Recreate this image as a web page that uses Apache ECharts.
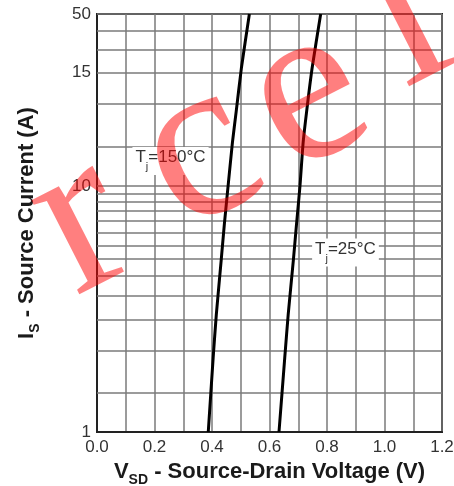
<!DOCTYPE html>
<html><head><meta charset="utf-8">
<script src="https://cdn.jsdelivr.net/npm/echarts@6/dist/echarts.min.js"></script>
<style>html,body{margin:0;padding:0;background:#fff}#c{width:454px;height:486px}</style>
</head><body><div id="c"></div>
<script>
// Source current (A) at which the curves were read
const currents = [1, 2, 3, 5, 7, 10, 15, 20, 30, 50];
// Source-drain voltage (V) for Tj = 150 °C
const vsd150 = [0.387, 0.404, 0.415, 0.432, 0.443, 0.456, 0.471, 0.484, 0.502, 0.530];
// Source-drain voltage (V) for Tj = 25 °C
const vsd25 = [0.633, 0.653, 0.665, 0.683, 0.694, 0.706, 0.717, 0.729, 0.748, 0.778];
// horizontal grid lines of the original (uneven) current grid
const yGridValues = [1.44, 2.14, 2.87, 3.58, 4.31, 5.04, 5.7, 6.46, 7.2, 7.91, 8.63, 9.34, 10, 14.4, 21.5, 28.9, 35.9, 42.8, 50];
// y tick labels as printed, and the grid value where each sits
const yTickValues = [1, 10, 28.9, 50];
const yTickLabels = ['1', '10', '15', '50'];
// x tick labels
const xTickLabels = ['0.0', '0.2', '0.4', '0.6', '0.8', '1.0', '1.2'];

const FONT = '"Liberation Sans", Arial, sans-serif';
const gridLineColor = '#7a7a7a';
const chart = echarts.init(document.getElementById('c'));

const subRich = {
  b: { fontSize: 22, fontWeight: 'bold', fontFamily: FONT, color: '#1a1a1a', lineHeight: 24, verticalAlign: 'top' },
  s: { fontSize: 14, fontWeight: 'bold', fontFamily: FONT, color: '#1a1a1a', lineHeight: 26, verticalAlign: 'bottom' }
};
const annRich = {
  t: { fontSize: 17, fontFamily: FONT, color: '#333', lineHeight: 18, verticalAlign: 'top' },
  j: { fontSize: 11, fontFamily: FONT, color: '#333', lineHeight: 24, verticalAlign: 'bottom' }
};

const wm = (ch, x, y) => ({
  type: 'text', x, y, rotation: 27 * Math.PI / 180, z: 100, silent: true,
  style: { text: ch, font: '230px "Liberation Serif", serif', fill: 'rgba(255,0,0,0.5)',
    textAlign: 'center', textVerticalAlign: 'middle', align: 'center', verticalAlign: 'middle' }
});

chart.setOption({
  animation: false,
  backgroundColor: '#fff',
  grid: { left: 97, top: 14, width: 345, height: 418, outerBoundsMode: 'none', containLabel: false,
    show: true, borderColor: '#222', borderWidth: 2, backgroundColor: 'transparent' },
  xAxis: {
    type: 'value', min: 0, max: 1.2, interval: 0.1,
    name: '{b|V}{s|SD}{b| - Source-Drain Voltage (V)}',
    nameLocation: 'middle', nameGap: 26,
    nameTextStyle: { rich: subRich },
    axisLine: { show: true, onZero: false, lineStyle: { color: '#222', width: 2 } },
    axisTick: { show: false },
    axisLabel: {
      margin: 7, fontSize: 17, fontFamily: FONT, color: '#333',
      formatter: v => { const k = Math.round(v * 10); return k % 2 === 0 ? xTickLabels[k / 2] : ''; }
    },
    splitLine: { show: true, lineStyle: { color: gridLineColor, width: 1.5 } }
  },
  yAxis: {
    type: 'log', logBase: 10, min: 1, max: 50,
    name: '{b|I}{s|S}{b| - Source Current (A)}',
    nameLocation: 'middle', nameGap: 55,
    nameTextStyle: { rich: subRich },
    axisLine: { show: true, lineStyle: { color: '#222', width: 2 } },
    axisTick: { show: false },
    axisLabel: { show: false },
    splitLine: { show: false }
  },
  graphic: [wm('r', 82, 225), wm('c', 200, 155), wm('e', 308, 97), wm('l', 406, 20)],
  series: [
    {
      type: 'line', name: 'grid', data: [], z: 1, silent: true,
      markLine: {
        silent: true, symbol: ['none', 'none'], animation: false,
        lineStyle: { color: gridLineColor, width: 1.5, type: 'solid' },
        label: { show: false },
        data: yGridValues.map(v => ({ yAxis: v }))
      }
    },
    {
      type: 'line', name: 'ticks', data: [], z: 1, silent: true,
      markLine: {
        silent: true, symbol: ['none', 'none'], animation: false,
        lineStyle: { color: 'transparent', width: 0 },
        label: { show: true, position: 'start', distance: 6, fontSize: 17, fontFamily: FONT, color: '#333' },
        data: yTickValues.map((v, i) => ({ yAxis: v, label: { formatter: yTickLabels[i] } }))
      }
    },
    {
      type: 'line', name: 'Tj=150°C', z: 5, symbol: 'none', smooth: 0.2,
      lineStyle: { color: '#000', width: 3 },
      data: currents.map((c, i) => [vsd150[i], c]),
      markPoint: {
        symbol: 'rect', symbolSize: 1, itemStyle: { color: 'transparent' }, silent: true,
        label: { show: true, position: 'right', distance: 0, backgroundColor: '#fff', padding: [2, 3],
          formatter: '{t|T}{j|j}{t|=150°C}', rich: annRich },
        data: [{ coord: [0.1215, 12.64] }]
      }
    },
    {
      type: 'line', name: 'Tj=25°C', z: 5, symbol: 'none', smooth: 0.2,
      lineStyle: { color: '#000', width: 3 },
      data: currents.map((c, i) => [vsd25[i], c]),
      markPoint: {
        symbol: 'rect', symbolSize: 1, itemStyle: { color: 'transparent' }, silent: true,
        label: { show: true, position: 'right', distance: 0, backgroundColor: '#fff', padding: [2, 3],
          formatter: '{t|T}{j|j}{t|=25°C}', rich: annRich },
        data: [{ coord: [0.7465, 5.365] }]
      }
    }
  ]
});
</script></body></html>
